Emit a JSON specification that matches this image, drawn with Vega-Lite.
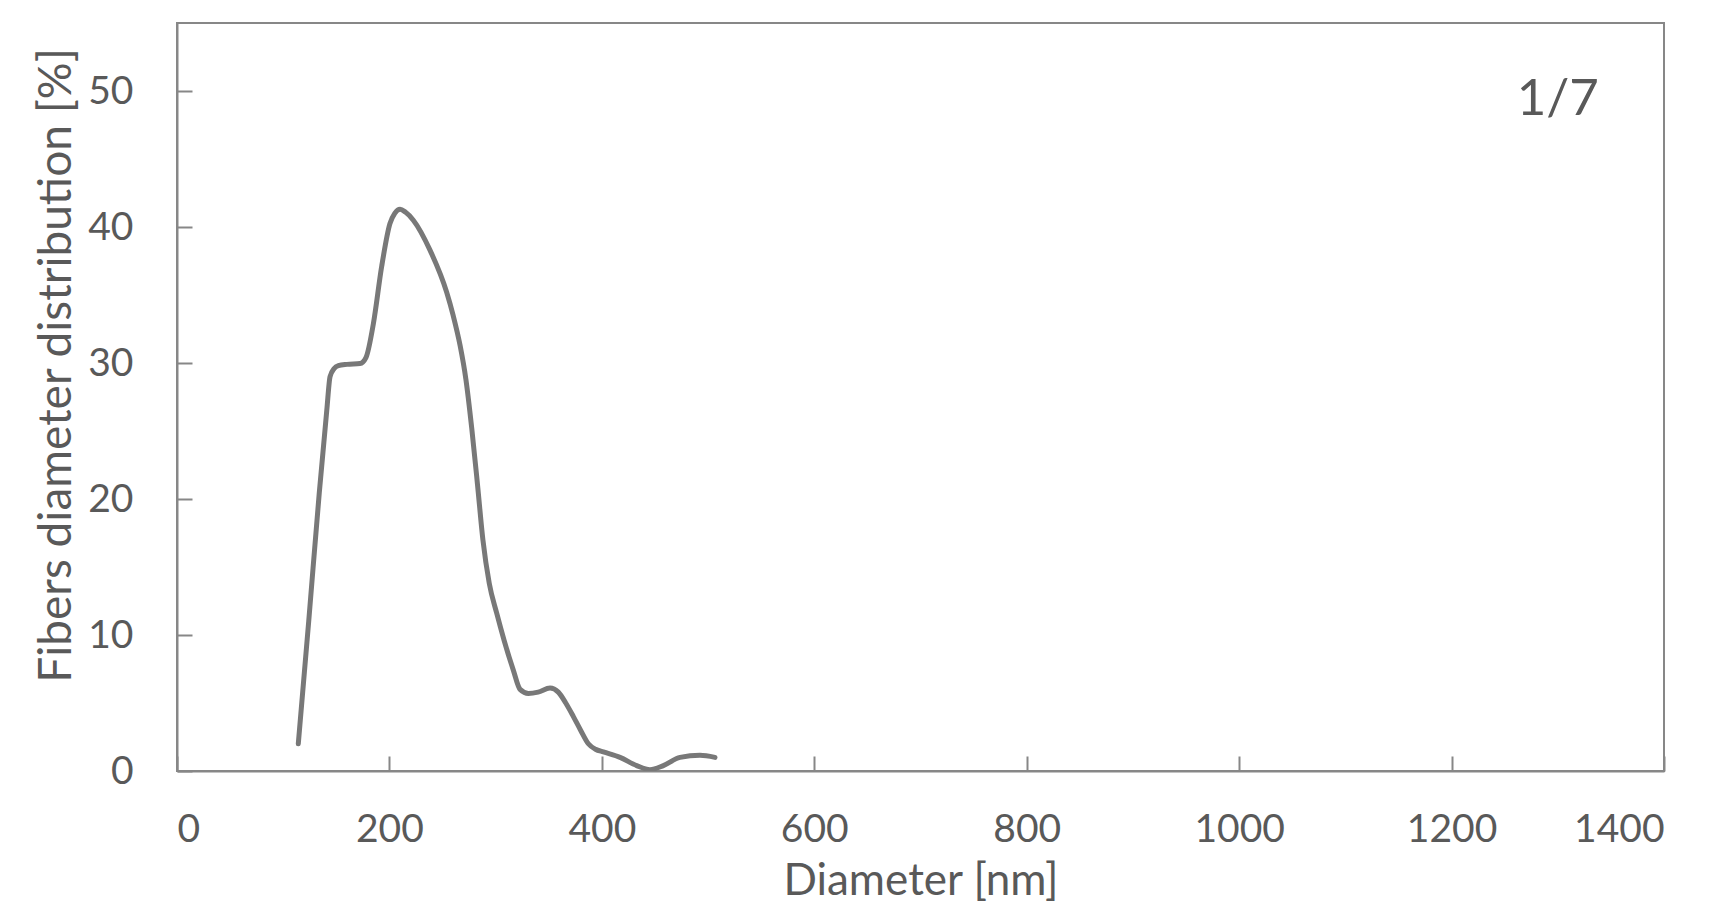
{
  "$schema": "https://vega.github.io/schema/vega-lite/v6.json",
  "width": 1487,
  "height": 748,
  "autosize": {"type": "none"},
  "padding": {"left": 177, "top": 23, "right": 64, "bottom": 151},
  "background": "white",
  "config": {
    "view": {"stroke": "#878787", "strokeWidth": 2},
    "font": "Lato",
    "axis": {
      "grid": false,
      "domainColor": "#878787",
      "domainWidth": 2,
      "tickColor": "#878787",
      "tickWidth": 2,
      "tickSize": -15,
      "labelFont": "Lato",
      "labelFontSize": 39,
      "labelColor": "#595959",
      "titleFont": "Lato",
      "titleFontWeight": "normal",
      "titleColor": "#595959"
    }
  },
  "datasets": {
    "curve": [
      {"d": 114.2, "p": 2.0},
      {"d": 124, "p": 11.0},
      {"d": 134, "p": 20.5},
      {"d": 141, "p": 26.5},
      {"d": 144.1, "p": 29.0},
      {"d": 148, "p": 29.6},
      {"d": 151.9, "p": 29.8},
      {"d": 160, "p": 29.9},
      {"d": 172.3, "p": 29.96},
      {"d": 177.9, "p": 30.4},
      {"d": 184.9, "p": 32.9},
      {"d": 192.7, "p": 37.1},
      {"d": 200.5, "p": 40.25},
      {"d": 205, "p": 41.0},
      {"d": 210, "p": 41.3},
      {"d": 215, "p": 41.1},
      {"d": 222.5, "p": 40.5},
      {"d": 238.2, "p": 38.3},
      {"d": 253.9, "p": 35.2},
      {"d": 260, "p": 33.5},
      {"d": 266.5, "p": 31.3},
      {"d": 272, "p": 28.8},
      {"d": 277.5, "p": 25.2},
      {"d": 283, "p": 21.0},
      {"d": 288, "p": 17.0},
      {"d": 294, "p": 13.8},
      {"d": 301, "p": 11.6},
      {"d": 308, "p": 9.6},
      {"d": 316.7, "p": 7.4},
      {"d": 323, "p": 6.0},
      {"d": 330.8, "p": 5.7},
      {"d": 340, "p": 5.8},
      {"d": 351.2, "p": 6.1},
      {"d": 359, "p": 5.8},
      {"d": 366, "p": 5.0},
      {"d": 373.2, "p": 4.0},
      {"d": 380, "p": 3.0},
      {"d": 387.3, "p": 2.0},
      {"d": 394, "p": 1.6},
      {"d": 401.4, "p": 1.4},
      {"d": 417.1, "p": 1.0},
      {"d": 432.8, "p": 0.4},
      {"d": 445.3, "p": 0.1},
      {"d": 457.9, "p": 0.4},
      {"d": 473.6, "p": 1.0},
      {"d": 492.4, "p": 1.15},
      {"d": 506.5, "p": 1.0}
    ],
    "note": [
      {"d": 1300, "p": 48.2, "label": "1/7"}
    ]
  },
  "layer": [
    {
      "data": {"name": "curve"},
      "mark": {"type": "line", "interpolate": "monotone", "color": "#787878", "strokeWidth": 5, "strokeCap": "round", "clip": true},
      "encoding": {
        "x": {
          "field": "d", "type": "quantitative",
          "scale": {"domain": [0, 1400], "nice": false, "zero": false},
          "axis": {"values": [0, 200, 400, 600, 800, 1000, 1200, 1400], "format": "d", "title": "Diameter [nm]", "titleFontSize": 44, "labelPadding": 54, "titlePadding": 10}
        },
        "y": {
          "field": "p", "type": "quantitative",
          "scale": {"domain": [0, 55], "nice": false},
          "axis": {"values": [0, 10, 20, 30, 40, 50], "format": "d", "title": "Fibers diameter distribution [%]", "titleFontSize": 46, "labelPadding": 59, "titlePadding": 7, "titleY": 342}
        }
      }
    },
    {
      "data": {"name": "note"},
      "mark": {"type": "text", "font": "Lato", "fontSize": 51, "color": "#595959", "align": "center", "baseline": "alphabetic"},
      "encoding": {
        "x": {"field": "d", "type": "quantitative"},
        "y": {"field": "p", "type": "quantitative"},
        "text": {"field": "label"}
      }
    }
  ]
}
